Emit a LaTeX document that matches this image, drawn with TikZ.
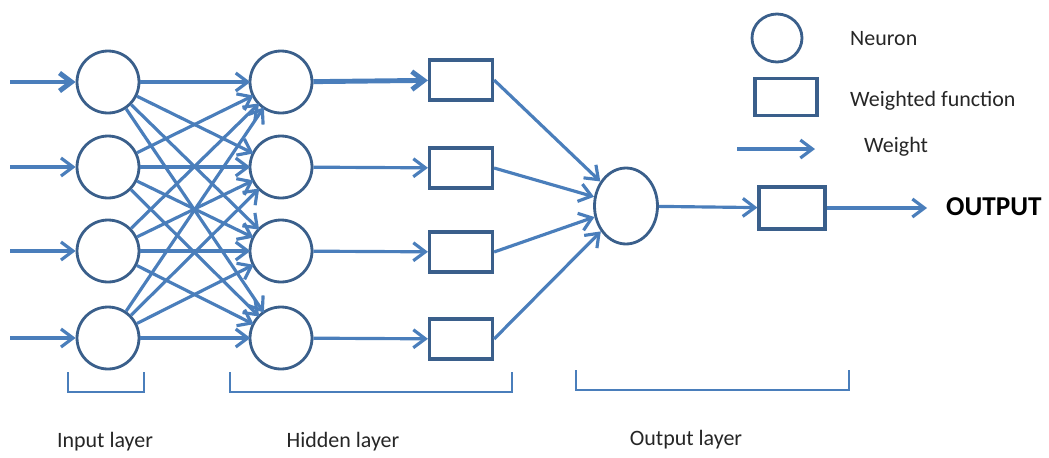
\documentclass[tikz,border=0pt]{standalone}
\usepackage{tikz}
\usetikzlibrary{shapes.geometric,arrows.meta,positioning}
\usepackage{fontspec}
\setmainfont{Carlito}
\definecolor{wire}{HTML}{4A7EBB}
\definecolor{rim}{HTML}{3A5F8B}

\begin{document}
\begin{tikzpicture}[x=0.02cm, y=-0.02cm,
  neuron/.style={ellipse, draw=rim, line width=1.6pt, fill=white, minimum width=1.24cm, minimum height=1.24cm, inner sep=0pt},
  wfun/.style={rectangle, draw=rim, line width=1.8pt, fill=white, minimum width=1.26cm, minimum height=0.8cm, inner sep=0pt},
  wt/.style={-{Straight Barb[length=2.4mm, width=3.6mm]}, line width=1.8pt, wire},
  wtb/.style={wt, line width=2.8pt},
  brk/.style={draw=wire, line width=0.9pt},
  lbl/.style={font=\fontsize{12.5}{14}\selectfont, text=black!85}
]
  \useasboundingbox (0,0) rectangle (1049,457);

  % input layer
  \node[neuron] (i1) at (108,82) {};
  \node[neuron] (i2) at (108,167) {};
  \node[neuron] (i3) at (108,251) {};
  \node[neuron] (i4) at (108,338) {};
  \coordinate (x1) at (10,82);
  \coordinate (x2) at (10,167);
  \coordinate (x3) at (10,251);
  \coordinate (x4) at (10,338);

  % hidden layer
  \node[neuron] (h1) at (281,82) {};
  \node[neuron] (h2) at (281,167) {};
  \node[neuron] (h3) at (281,251) {};
  \node[neuron] (h4) at (281,338) {};
  \node[wfun] (f1) at (461,80) {};
  \node[wfun] (f2) at (461,168) {};
  \node[wfun] (f3) at (461,252) {};
  \node[wfun] (f4) at (461,339) {};

  % output layer
  \node[neuron, minimum width=1.26cm, minimum height=1.52cm] (o) at (626,206) {};
  \node[wfun, minimum width=1.32cm, minimum height=0.84cm] (g) at (792,208) {};
  \coordinate (y) at (927,208);
  \node[font=\fontsize{15.5}{17}\selectfont\bfseries, anchor=west] (out) at (940,207) {OUTPUT};

  % weights
  \draw[wtb] (x1) -- (i1);
  \draw[wt] (x2) -- (i2);
  \draw[wt] (x3) -- (i3);
  \draw[wt] (x4) -- (i4);
  \foreach \a in {1,...,4}
    \foreach \b in {1,...,4}
      \draw[wt, shorten >=-1pt] (i\a) -- (h\b);
  \draw[wtb] (h1) -- (f1);
  \draw[wt] (h2) -- (f2);
  \draw[wt] (h3) -- (f3);
  \draw[wt] (h4) -- (f4);
  \draw[wt] (f1.east) -- (o);
  \draw[wt] (f2.east) -- (o);
  \draw[wt] (f3.east) -- (o);
  \draw[wt] (f4.east) -- (o);
  \draw[wt] (o) -- (g);
  \draw[wt] (g) -- (y);

  % legend
  \node[neuron, minimum width=1.0cm, minimum height=0.96cm] (kn) at (777,38) {};
  \node[lbl, anchor=west] (kn-t) at (844,39) {Neuron};
  \node[wfun, minimum width=1.24cm, minimum height=0.74cm] (kf) at (786,97) {};
  \node[lbl, anchor=west] (kf-t) at (844,101) {Weighted function};
  \coordinate (kw1) at (737,149);
  \coordinate (kw2) at (815,149);
  \draw[wt] (kw1) -- (kw2);
  \node[lbl, anchor=west] (kw-t) at (858,147) {Weight};

  % layer brackets
  \draw[brk] (68,372) |- (144,392) -- (144,372);
  \draw[brk] (230,372) |- (512,392) -- (512,372);
  \draw[brk] (576,370) |- (849,390) -- (849,370);
  \node[lbl] (li) at (105,442) {Input layer};
  \node[lbl] (lh) at (343,442) {Hidden layer};
  \node[lbl] (lo) at (686,440) {Output layer};
\end{tikzpicture}
\end{document}
